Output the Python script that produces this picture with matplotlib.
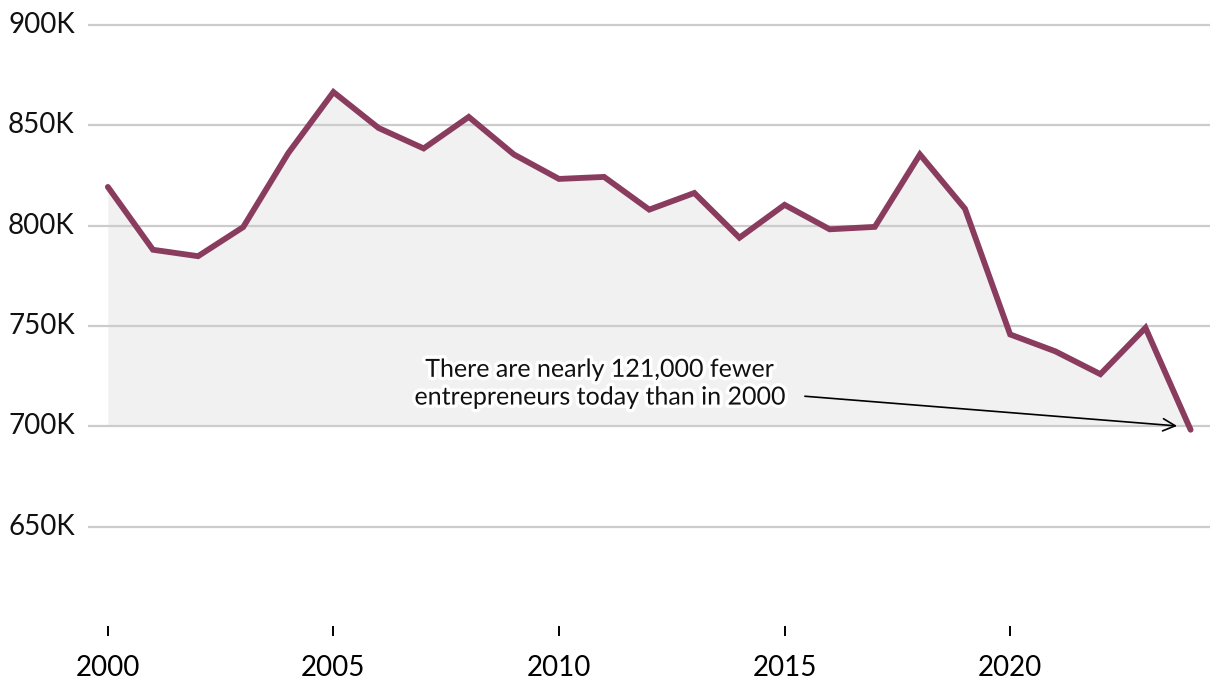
import matplotlib
matplotlib.use("Agg")
import matplotlib.pyplot as plt
import matplotlib.patheffects as pe
from matplotlib.transforms import blended_transform_factory

plt.rcParams["font.family"] = ["Lato", "DejaVu Sans"]

# ─── Data ─────────────────────────────────────────────────────────────────────
years = list(range(2000, 2025))
entrepreneurs_k = [819.3, 788.0, 784.8, 799.3, 836.2, 866.6, 848.7, 838.5, 854.2, 835.5,
                   823.3, 824.3, 808.0, 816.3, 794.0, 810.4, 798.2, 799.4, 835.5, 808.4,
                   745.8, 737.4, 726.0, 749.1, 698.3]
y_ticks = [650, 700, 750, 800, 850, 900]
y_labels = ["650K", "700K", "750K", "800K", "850K", "900K"]
x_ticks = [2000, 2005, 2010, 2015, 2020]
note = "There are nearly 121,000 fewer\nentrepreneurs today than in 2000"

LINE = "#8a3c5f"
FILL = "#f0f1f0"
GRID = "#cccccc"

fig = plt.figure(figsize=(12.2, 6.92), dpi=100)
ax = fig.add_axes([88 / 1220, 66 / 692, 1122 / 1220, 606 / 692])

ax.fill_between(years, entrepreneurs_k, 700, color=FILL, lw=0, zorder=1)
ax.plot(years, entrepreneurs_k, color=LINE, lw=4.2, solid_capstyle="round",
        solid_joinstyle="miter", zorder=3)

for v in y_ticks:
    ax.axhline(v, color=GRID, lw=1.6, zorder=2)

ax.set_xlim(1999.56, 2024.43)
ax.set_ylim(600.5, 902.5)
ax.set_yticks([])
ax.set_xticks(x_ticks)
ax.set_xticklabels([str(x) for x in x_ticks], fontsize=20)
ax.tick_params(axis="x", length=7, width=1.4, pad=14, color="black")
for s in ax.spines.values():
    s.set_visible(False)

# y labels sit left of the grid, centred on each line
tr = blended_transform_factory(fig.transFigure, ax.transData)
for v, lab in zip(y_ticks, y_labels):
    ax.text(8 / 1220, v, lab, transform=tr, ha="left", va="center",
            fontsize=20, color="#111111")

# annotation with arrow
ax.annotate("", xy=(2023.7, 700.2), xytext=(2015.45, 715.0),
            arrowprops=dict(arrowstyle="->", color="black", lw=1.2,
                            mutation_scale=22, shrinkA=0, shrinkB=0),
            zorder=4)
ax.text(2010.9, 721.5, note, ha="center", va="center", fontsize=18,
        linespacing=1.25, color="#111111", zorder=5,
        path_effects=[pe.withStroke(linewidth=5, foreground="white")])

fig.savefig("out.png", dpi=100)
